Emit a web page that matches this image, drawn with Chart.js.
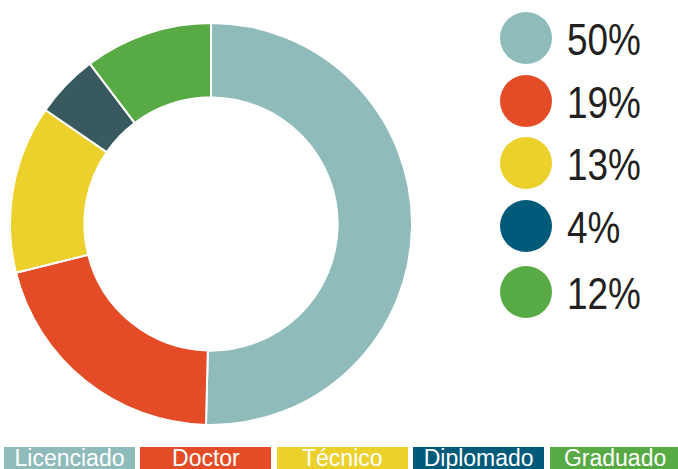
<!DOCTYPE html>
<html>
<head>
<meta charset="utf-8">
<script src="https://cdn.jsdelivr.net/npm/chart.js@4"></script>
<style>
  html, body { margin: 0; padding: 0; background: #ffffff; }
  body { width: 678px; height: 469px; position: relative; overflow: hidden; }
  #wrap { position: absolute; left: 9px; top: 22px; width: 404px; height: 404px; }
  .dot { position: absolute; width: 52px; height: 52px; border-radius: 50%; left: 500px; }
  .pct { position: absolute; left: 567px; font-family: "Liberation Sans", Arial, sans-serif;
         font-size: 45px; color: #231f20; line-height: 52px; height: 52px;
         transform: scaleX(0.82); transform-origin: left center; white-space: nowrap; }
  .box { position: absolute; top: 446.5px; height: 23px; width: 131px; }
  .lbl { position: absolute; top: 446.5px; width: 131px; color: #ffffff;
         font-family: "Liberation Sans", Arial, sans-serif; font-size: 23px; line-height: 23px;
         text-align: center; white-space: nowrap; }
</style>
</head>
<body>
<div id="wrap"><canvas id="c" width="404" height="404"></canvas></div>
<div id="legend"></div>
<script>
const categories = ['Licenciado', 'Doctor', 'Técnico', 'Diplomado', 'Graduado'];
const sliceValues = [50.4, 20.7, 13.5, 5.1, 10.3];
const percentLabels = ['50%', '19%', '13%', '4%', '12%'];
const sliceColors = ['#8fbbbb', '#e34c26', '#ecd02b', '#385a5e', '#58aa45'];
const legendColors = ['#8fbbbb', '#e34c26', '#ecd02b', '#005a7a', '#58aa45'];

new Chart(document.getElementById('c'), {
  type: 'doughnut',
  data: {
    labels: categories,
    datasets: [{
      data: sliceValues,
      backgroundColor: sliceColors,
      borderColor: '#ffffff',
      borderWidth: 2
    }]
  },
  options: {
    responsive: false,
    animation: false,
    cutout: '63%',
    layout: { padding: 0 },
    plugins: { legend: { display: false }, tooltip: { enabled: false } }
  }
});

const legend = document.getElementById('legend');
const dotCenters = [38, 101, 163, 226, 292];
categories.forEach((cat, i) => {
  const d = document.createElement('div');
  d.className = 'dot';
  d.style.top = (dotCenters[i] - 26) + 'px';
  d.style.background = legendColors[i];
  legend.appendChild(d);
  const p = document.createElement('div');
  p.className = 'pct';
  p.style.top = (dotCenters[i] - 24) + 'px';
  p.textContent = percentLabels[i];
  legend.appendChild(p);
  const b = document.createElement('div');
  b.className = 'box';
  b.style.left = (4 + i * 136.4) + 'px';
  b.style.background = legendColors[i];
  legend.appendChild(b);
  const t = document.createElement('div');
  t.className = 'lbl';
  t.style.left = (4 + i * 136.4) + 'px';
  t.textContent = cat;
  legend.appendChild(t);
});
</script>
</body>
</html>
